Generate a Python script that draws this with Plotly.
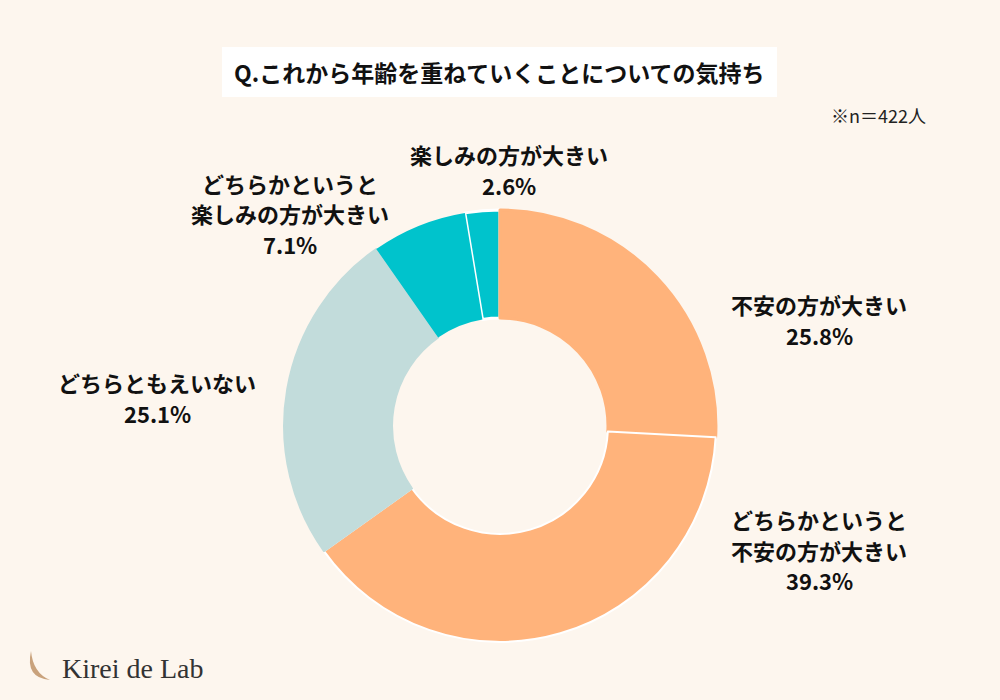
import plotly.graph_objects as go

# ---- data ----
title_text = "Q.これから年齢を重ねていくことについての気持ち"
sample_note = "※n＝422人"
categories = [
    "不安の方が大きい",
    "どちらかというと<br>不安の方が大きい",
    "どちらともえいない",
    "どちらかというと<br>楽しみの方が大きい",
    "楽しみの方が大きい",
]
values = [25.8, 39.3, 25.1, 7.1, 2.6]
colors = ["#FFB37B", "#FFB37B", "#C2DCDB", "#00C3CC", "#00C3CC"]

# label block anchors (pixel x centre, pixel y of first line) -- layout only
label_x = [819, 819, 157, 290, 509]
label_y0 = [304, 519, 382, 183, 154]
LINE_GAP = 30.5

BG = "#FDF6EE"
WHITE = "#FFFFFF"

# draw order: start with the last slice so that white separators only
# appear between slices of the same colour
order = [4, 0, 1, 2, 3]
total = sum(values)
rotation = -values[4] / total * 360.0

# stroke per slice (in draw order)
line_colors = [WHITE, colors[0], WHITE, colors[2], colors[3]]
line_widths = [3, 3, 2, 2, 0]

fig = go.Figure()
fig.add_trace(go.Pie(
    labels=[categories[i].replace("<br>", "") for i in order],
    values=[values[i] for i in order],
    marker=dict(colors=[colors[i] for i in order],
                line=dict(color=line_colors, width=line_widths)),
    sort=False,
    direction="clockwise",
    rotation=rotation,
    hole=0.5,
    textinfo="none",
    hoverinfo="label+percent",
    showlegend=False,
    domain=dict(x=[0.283, 0.717], y=[0.083, 0.700]),
))


def py(y):
    return 1 - y / 700


annotations = []
for x, y0, lab, v in zip(label_x, label_y0, categories, values):
    lines = lab.split("<br>") + [f"{v:.1f}%"]
    for k, line in enumerate(lines):
        annotations.append(dict(
            x=x / 1000, y=py(y0 + k * LINE_GAP), xref="paper", yref="paper",
            xanchor="center", yanchor="middle",
            text=f"<b>{line}</b>",
            showarrow=False, align="center",
            font=dict(family="Noto Sans CJK JP", size=22, color="#111111"),
        ))

annotations.append(dict(
    x=0.4995, y=py(72), xref="paper", yref="paper",
    xanchor="center", yanchor="middle",
    text=f"<b>{title_text}</b>", showarrow=False,
    font=dict(family="Noto Sans CJK JP", size=23, color="#111111"),
))
annotations.append(dict(
    x=0.928, y=py(115), xref="paper", yref="paper",
    xanchor="right", yanchor="middle",
    text=sample_note, showarrow=False,
    font=dict(family="Noto Sans CJK JP", size=18, color="#222222"),
))
annotations.append(dict(
    x=0.060, y=py(668), xref="paper", yref="paper",
    xanchor="left", yanchor="middle",
    text="Kirei de Lab", showarrow=False,
    font=dict(family="Liberation Serif", size=28, color="#333333"),
))


def px(x, y):
    return f"{x / 1000:.4f},{1 - y / 700:.4f}"


shapes = [
    dict(type="rect", xref="paper", yref="paper",
         x0=222 / 1000, x1=777 / 1000, y0=py(97), y1=py(47),
         fillcolor=WHITE, line=dict(width=0), layer="below"),
    dict(type="path", xref="paper", yref="paper",
         path=f"M {px(31, 651)} Q {px(25, 678)} {px(50, 680)} "
              f"Q {px(33, 673)} {px(31, 651)} Z",
         fillcolor="#C9A27C", line=dict(width=0)),
]

fig.update_layout(
    width=1000, height=700,
    margin=dict(l=0, r=0, t=0, b=0),
    paper_bgcolor=BG, plot_bgcolor=BG,
    annotations=annotations,
    shapes=shapes,
)

fig.write_html(
    "out.html",
    config={"displayModeBar": False},
    post_script="document.body.style.margin='0';document.body.style.overflow='hidden';",
)
